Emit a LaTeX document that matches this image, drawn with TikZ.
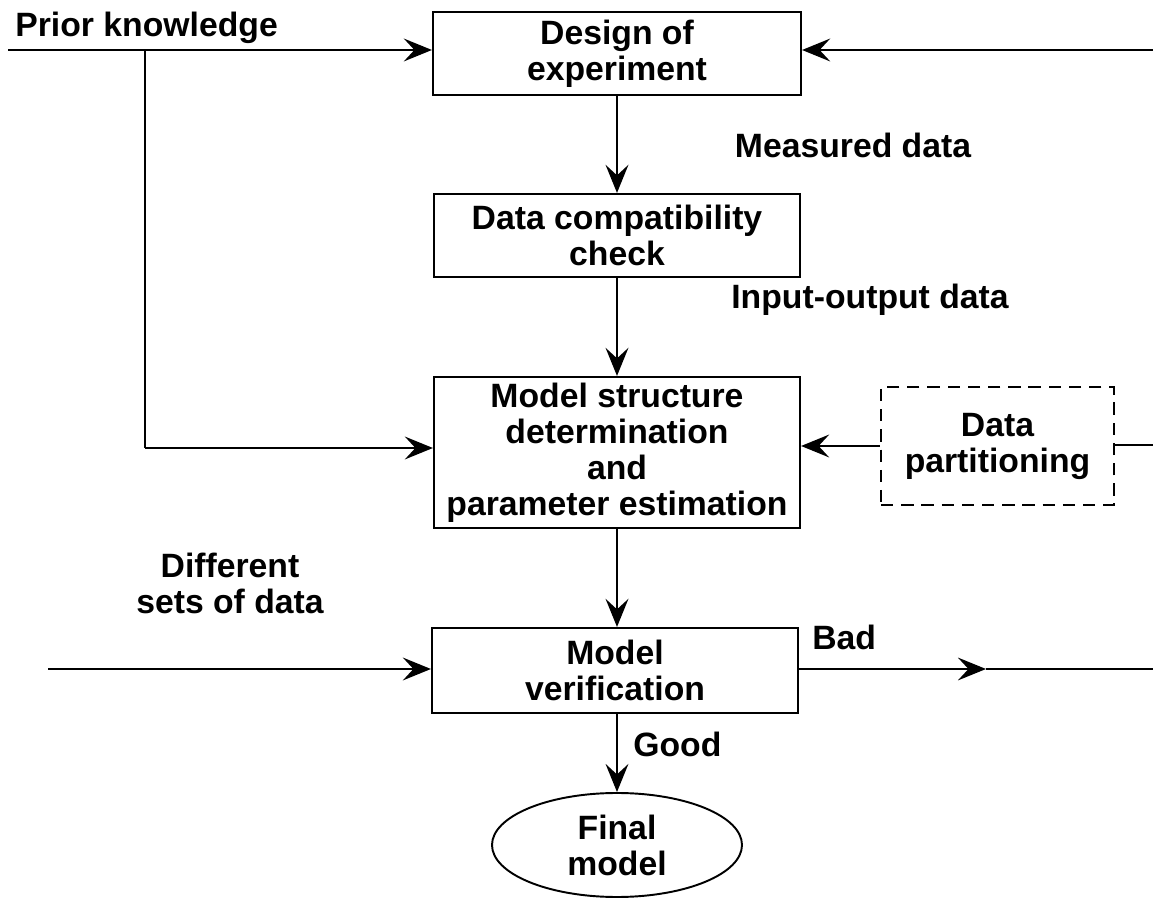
\documentclass[tikz,border=0pt]{standalone}
\usepackage{fontspec}
\setmainfont{Liberation Sans}
\usetikzlibrary{arrows.meta,shapes.geometric}
\begin{document}
\begin{tikzpicture}[x=0.02cm,y=-0.02cm,
  font=\fontsize{19.2}{20.5}\selectfont\bfseries,
  box/.style={draw,line width=1.2pt,align=center,inner sep=0pt},
  dbox/.style={box,dashed,dash pattern=on 7pt off 4.5pt,line width=1pt},
  oval/.style={draw,ellipse,line width=1.1pt,align=center,inner sep=0pt},
  lbl/.style={align=center,inner sep=0pt},
  conn/.style={line width=1.1pt},
  arr/.style={conn,-{Stealth[length=16pt,width=13pt,inset=6pt]}}]
\useasboundingbox (0,0) rectangle (1153,901);
\node[box,minimum width=368*0.02cm,minimum height=83*0.02cm] (design) at (617,53.5) {Design of\\experiment};
\node[box,minimum width=366*0.02cm,minimum height=83*0.02cm] (datac) at (617,235.5) {Data compatibility\\check};
\node[box,minimum width=366*0.02cm,minimum height=151*0.02cm] (model) at (617,452.5) {Model structure\\determination\\and\\parameter estimation};
\node[dbox,minimum width=233*0.02cm,minimum height=118*0.02cm] (part) at (997.5,446) {Data\\partitioning};
\node[box,minimum width=366*0.02cm,minimum height=85*0.02cm] (ver) at (615,670.5) {Model\\verification};
\node[oval,minimum width=250*0.02cm,minimum height=104*0.02cm] (final) at (617,845) {Final\\model};

\node[lbl,anchor=base west] (prior) at (15,37) {Prior knowledge};
\node[lbl] (meas) at (853,145) {Measured data};
\node[lbl] (io) at (870,300) {Input-output data};
\node[lbl,anchor=base] (diff) at (230,614) {Different\\sets of data};
\node[lbl,anchor=base west] (bad) at (812,650) {Bad};
\node[lbl,anchor=base west] (good) at (633,757) {Good};

\coordinate (pstart) at (8,50);
\coordinate (branch) at (145,50);
\coordinate (corner) at (145,448);
\coordinate (rtop) at (1153,50);
\coordinate (rmid) at (1153,445);
\coordinate (dstart) at (48,669);
\coordinate (badarr) at (986,669);
\coordinate (badend) at (1153,669);

\draw[arr] (pstart) -- (design.west|-pstart);
\draw[conn] (branch) -- (corner);
\draw[arr] (corner) -- (model.west|-corner);
\draw[arr] (rtop) -- (design.east|-rtop);
\draw[arr] (design.south) -- (datac.north);
\draw[arr] (datac.south) -- (model.north);
\draw[conn] (rmid) -- (part.east|-rmid);
\draw[arr] (part.west) -- (model.east|-part.west);
\draw[arr] (model.south) -- (ver.north-|model.south);
\draw[arr] (dstart) -- (ver.west|-dstart);
\draw[arr] (ver.east|-badarr) -- (badarr);
\draw[conn] (badarr) -- (badend);
\draw[arr] (ver.south-|final.north) -- (final.north);
\end{tikzpicture}
\end{document}
